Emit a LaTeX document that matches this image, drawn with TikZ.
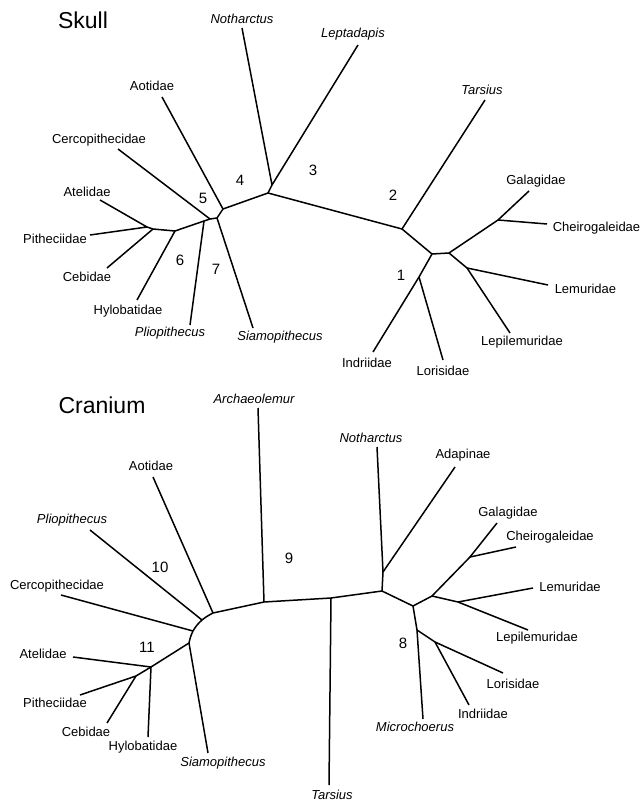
\documentclass[tikz,border=0pt]{standalone}
\usepackage{fontspec}
\setmainfont{Liberation Sans}
\usetikzlibrary{positioning}
\begin{document}
\begin{tikzpicture}[x=1pt,y=-1pt,line width=1.5pt,line join=round,
  taxon/.style={font=\fontsize{13}{15}\selectfont,inner sep=0pt},
  fossil/.style={font=\fontsize{13}{15}\selectfont\itshape,inner sep=0pt},
  clade/.style={font=\fontsize{15}{17}\selectfont,inner sep=0pt},
  panel/.style={font=\fontsize{23}{26}\selectfont,inner sep=0pt}]
\useasboundingbox (0,0) rectangle (642,802);

% Skull
\node[panel] (skull) at (83,20) {Skull};
\coordinate (s0) at (268,193); \coordinate (s1) at (223,209); \coordinate (s2) at (217,218);
\coordinate (s3) at (210,219); \coordinate (s4) at (204,221); \coordinate (s5) at (175,231);
\coordinate (s6) at (153,229); \coordinate (s7) at (147,227); \coordinate (sn) at (272,185);
\coordinate (st) at (402,229); \coordinate (sa) at (432,254); \coordinate (sb) at (449,253);
\coordinate (sc) at (419,277); \coordinate (sd) at (498,220); \coordinate (se) at (467,268);

\coordinate (s-not) at (242,28);  \node[fossil] (s-not-t) at (242,19) {Notharctus};
\coordinate (s-lep) at (358,45);  \node[fossil] (s-lep-t) at (353,34) {Leptadapis};
\coordinate (s-tar) at (485,100); \node[fossil] (s-tar-t) at (482,90) {Tarsius};
\coordinate (s-aot) at (162,97);  \node[taxon] (s-aot-t) at (152,86) {Aotidae};
\coordinate (s-cer) at (118,149); \node[taxon] (s-cer-t) at (99,140) {Cercopithecidae};
\coordinate (s-ate) at (100,200); \node[taxon] (s-ate-t) at (87,192) {Atelidae};
\coordinate (s-pit) at (90,235);  \node[taxon] (s-pit-t) at (55,239) {Pitheciidae};
\coordinate (s-ceb) at (107,268); \node[taxon] (s-ceb-t) at (87,277) {Cebidae};
\coordinate (s-hyl) at (137,300); \node[taxon] (s-hyl-t) at (128,311) {Hylobatidae};
\coordinate (s-pli) at (190,325); \node[fossil] (s-pli-t) at (170,333) {Pliopithecus};
\coordinate (s-sia) at (253,328); \node[fossil] (s-sia-t) at (280,337) {Siamopithecus};
\coordinate (s-gal) at (529,191); \node[taxon] (s-gal-t) at (536,181) {Galagidae};
\coordinate (s-che) at (547,224); \node[taxon,anchor=west] (s-che-t) at (552,228) {Cheirogaleidae};
\coordinate (s-lem) at (548,285); \node[taxon,anchor=west] (s-lem-t) at (554,289) {Lemuridae};
\coordinate (s-lpl) at (510,333); \node[taxon] (s-lpl-t) at (522,342) {Lepilemuridae};
\coordinate (s-ind) at (373,352); \node[taxon] (s-ind-t) at (367,363) {Indriidae};
\coordinate (s-lor) at (443,360); \node[taxon] (s-lor-t) at (443,371) {Lorisidae};

\draw (sb) -- (sa) -- (st) -- (s0) -- (s1) -- (s2) -- (s3) -- (s4) -- (s5) -- (s6) -- (s7);
\draw (s-not) -- (sn) -- (s-lep); \draw (sn) -- (s0);
\draw (st) -- (s-tar);
\draw (s1) -- (s-aot); \draw (s3) -- (s-cer); \draw (s2) -- (s-sia); \draw (s4) -- (s-pli);
\draw (s5) -- (s-hyl); \draw (s6) -- (s-ceb); \draw (s-ate) -- (s7) -- (s-pit);
\draw (sa) -- (sc) -- (s-ind); \draw (sc) -- (s-lor);
\draw (sb) -- (sd) -- (s-gal); \draw (sd) -- (s-che);
\draw (sb) -- (se) -- (s-lpl); \draw (se) -- (s-lem);

\node[clade] (n1) at (401,275) {1}; \node[clade] (n2) at (393,195) {2};
\node[clade] (n3) at (313,170) {3}; \node[clade] (n4) at (240,180) {4};
\node[clade] (n5) at (203,198) {5}; \node[clade] (n6) at (180,260) {6};
\node[clade] (n7) at (216,269) {7};

% Cranium
\node[panel] (cranium) at (102,405) {Cranium};
\coordinate (c0) at (264,602); \coordinate (c1) at (213,613); \coordinate (c2) at (202,620);
\coordinate (c3) at (193,631); \coordinate (c4) at (189,643); \coordinate (c5) at (151,667);
\coordinate (c6) at (136,676); \coordinate (ct) at (331,598); \coordinate (c7) at (382,591);
\coordinate (cn) at (383,572); \coordinate (c8) at (413,606); \coordinate (c9) at (432,596);
\coordinate (c10) at (470,557); \coordinate (c11) at (458,602); \coordinate (c12) at (417,630);
\coordinate (c13) at (435,642);

\coordinate (c-arc) at (258,408); \node[fossil] (c-arc-t) at (254,399) {Archaeolemur};
\coordinate (c-aot) at (153,477); \node[taxon] (c-aot-t) at (151,466) {Aotidae};
\coordinate (c-pli) at (90,530);  \node[fossil] (c-pli-t) at (72,520) {Pliopithecus};
\coordinate (c-cer) at (61,595);  \node[taxon] (c-cer-t) at (57,586) {Cercopithecidae};
\coordinate (c-sia) at (208,753); \node[fossil] (c-sia-t) at (223,763) {Siamopithecus};
\coordinate (c-ate) at (73,657);  \node[taxon] (c-ate-t) at (43,654) {Atelidae};
\coordinate (c-hyl) at (148,737); \node[taxon] (c-hyl-t) at (143,747) {Hylobatidae};
\coordinate (c-pit) at (80,695);  \node[taxon] (c-pit-t) at (55,703) {Pitheciidae};
\coordinate (c-ceb) at (107,723); \node[taxon] (c-ceb-t) at (86,732) {Cebidae};
\coordinate (c-tar) at (329,785); \node[fossil] (c-tar-t) at (332,795) {Tarsius};
\coordinate (c-not) at (377,447); \node[fossil] (c-not-t) at (371,438) {Notharctus};
\coordinate (c-ada) at (455,467); \node[taxon] (c-ada-t) at (463,455) {Adapinae};
\coordinate (c-gal) at (497,523); \node[taxon] (c-gal-t) at (508,513) {Galagidae};
\coordinate (c-che) at (516,547); \node[taxon] (c-che-t) at (550,537) {Cheirogaleidae};
\coordinate (c-lem) at (533,588); \node[taxon] (c-lem-t) at (570,587) {Lemuridae};
\coordinate (c-lpl) at (528,630); \node[taxon] (c-lpl-t) at (537,638) {Lepilemuridae};
\coordinate (c-mic) at (423,719); \node[fossil] (c-mic-t) at (415,727) {Microchoerus};
\coordinate (c-lor) at (503,673); \node[taxon] (c-lor-t) at (513,684) {Lorisidae};
\coordinate (c-ind) at (469,705); \node[taxon] (c-ind-t) at (483,714) {Indriidae};

\draw (c8) -- (c7) -- (ct) -- (c0) -- (c1);
\draw plot[smooth,tension=0.7] coordinates {(c1) (c2) (c3) (c4)};
\draw (c4) -- (c5) -- (c6);
\draw (c0) -- (c-arc); \draw (ct) -- (c-tar);
\draw (c1) -- (c-aot); \draw (c2) -- (c-pli); \draw (c3) -- (c-cer); \draw (c4) -- (c-sia);
\draw (c5) -- (c-ate); \draw (c5) -- (c-hyl); \draw (c6) -- (c-pit); \draw (c6) -- (c-ceb);
\draw (c7) -- (cn) -- (c-not); \draw (cn) -- (c-ada);
\draw (c8) -- (c9) -- (c10) -- (c-gal); \draw (c10) -- (c-che);
\draw (c9) -- (c11) -- (c-lem); \draw (c11) -- (c-lpl);
\draw (c8) -- (c12) -- (c-mic); \draw (c12) -- (c13) -- (c-lor); \draw (c13) -- (c-ind);

\node[clade] (n8) at (403,643) {8}; \node[clade] (n9) at (289,558) {9};
\node[clade] (n10) at (160,567) {10}; \node[clade] (n11) at (147,647) {11};
\end{tikzpicture}
\end{document}
